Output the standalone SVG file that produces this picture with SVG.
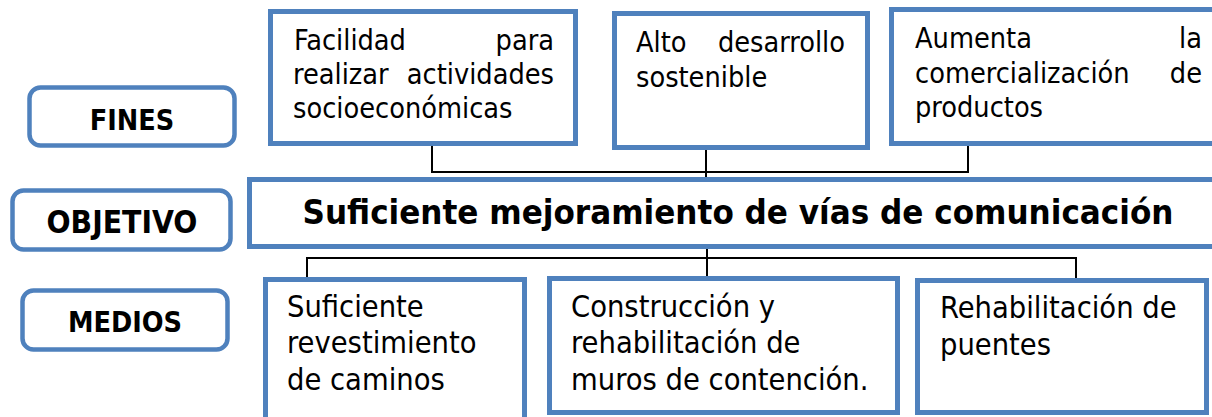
<svg xmlns="http://www.w3.org/2000/svg" width="1212" height="417" viewBox="0 0 1212 417">
<style>
.lab{fill:#fff;stroke:#4f81bd;stroke-width:4.5}
.box{fill:#fff;stroke:#4f81bd;stroke-width:5}
.t{font-family:"DejaVu Sans Condensed","DejaVu Sans",sans-serif;font-size:28.6px;fill:#000}
.m{font-size:30.5px}
.b{font-family:"DejaVu Sans Condensed","DejaVu Sans",sans-serif;font-size:28.5px;font-weight:bold;fill:#000;text-anchor:middle}
.h{font-family:"DejaVu Sans Condensed","DejaVu Sans",sans-serif;font-size:34.6px;font-weight:bold;fill:#000;text-anchor:middle}
.e{text-anchor:end}
.c{fill:none;stroke:#000;stroke-width:2}
</style>
<rect width="1212" height="417" fill="#fff"/>
<g id="connectors">
<polyline class="c" points="432,146 432,172 968,172 968,146"/>
<line class="c" x1="706" y1="150" x2="706" y2="180"/>
<polyline class="c" points="307,277 307,258 1076,258 1076,278"/>
<line class="c" x1="707" y1="248" x2="707" y2="276"/>
</g>
<g id="fines">
<rect class="lab" x="29.5" y="87.5" width="205" height="58" rx="11"/>
<text class="b" x="132" y="130">FINES</text>
</g>
<g id="objetivo-label">
<rect class="lab" x="12.5" y="190.5" width="218" height="59" rx="11"/>
<text class="b" x="122" y="233" style="font-size:31.5px">OBJETIVO</text>
</g>
<g id="medios">
<rect class="lab" x="22.5" y="290.5" width="205" height="59" rx="11"/>
<text class="b" x="125" y="332">MEDIOS</text>
</g>
<g id="fin1">
<rect class="box" x="270.5" y="11.5" width="305" height="132"/>
<text class="t" x="294" y="50">Facilidad</text>
<text class="t e" x="554" y="50">para</text>
<text class="t" x="293" y="84">realizar</text>
<text class="t e" x="554" y="84">actividades</text>
<text class="t" x="293" y="118">socioeconómicas</text>
</g>
<g id="fin2">
<rect class="box" x="614.5" y="13.5" width="253" height="134"/>
<text class="t" x="636" y="52">Alto</text>
<text class="t e" x="845" y="52">desarrollo</text>
<text class="t" x="636" y="87">sostenible</text>
</g>
<g id="fin3">
<rect class="box" x="891.5" y="9.5" width="330" height="134"/>
<text class="t" x="915" y="48">Aumenta</text>
<text class="t e" x="1202" y="48">la</text>
<text class="t" x="915" y="83">comercialización</text>
<text class="t e" x="1202" y="83">de</text>
<text class="t" x="915" y="117">productos</text>
</g>
<g id="objetivo">
<rect class="box" x="249.5" y="179.5" width="980" height="67"/>
<text class="h" x="738" y="224">Suficiente mejoramiento de vías de comunicación</text>
</g>
<g id="medio1">
<rect class="box" x="265.5" y="279.5" width="259" height="150"/>
<text class="t m" x="287" y="317">Suficiente</text>
<text class="t m" x="287" y="353">revestimiento</text>
<text class="t m" x="287" y="390">de caminos</text>
</g>
<g id="medio2">
<rect class="box" x="549.5" y="278.5" width="348" height="134"/>
<text class="t m" x="571" y="317">Construcción y</text>
<text class="t m" x="571" y="353">rehabilitación de</text>
<text class="t m" x="571" y="390">muros de contención.</text>
</g>
<g id="medio3">
<rect class="box" x="917.5" y="280.5" width="289" height="132"/>
<text class="t m" x="940" y="318">Rehabilitación de</text>
<text class="t m" x="940" y="355">puentes</text>
</g>
</svg>
